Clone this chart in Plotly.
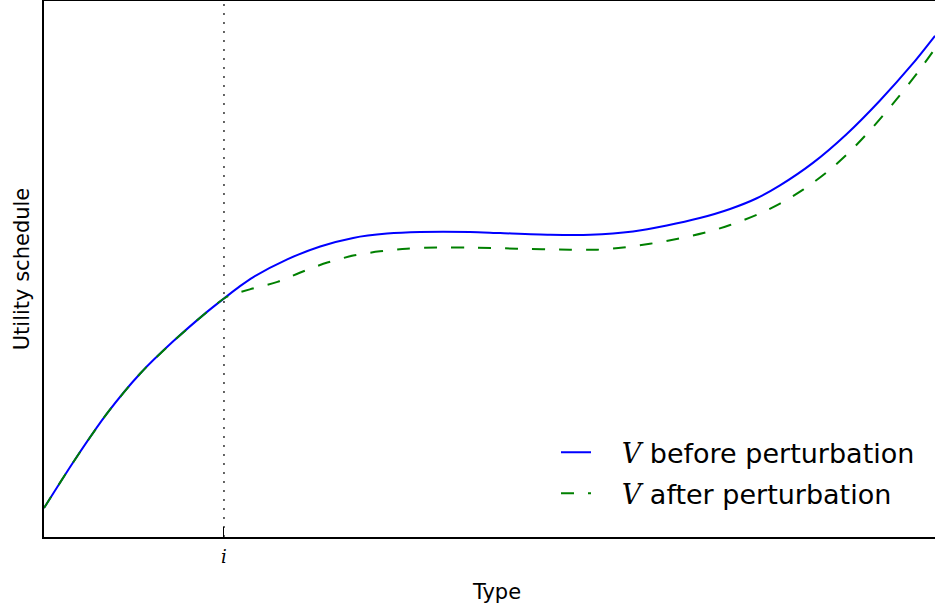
import plotly.graph_objects as go

# Type (horizontal) positions and utility values
type_before = [0.0, 0.33, 0.71, 1.08, 1.45, 1.83, 2.02, 2.20, 2.35, 2.73, 3.10, 3.47, 3.85,
               4.22, 4.78, 5.12, 5.68, 6.13, 6.61, 6.99, 7.36, 7.70, 8.00, 8.26, 8.63,
               9.01, 9.38, 9.75, 10.0]
v_before = [0.54, 1.40, 2.31, 3.05, 3.65, 4.20, 4.45, 4.68, 4.85, 5.18, 5.42, 5.58, 5.66,
            5.69, 5.69, 5.67, 5.64, 5.64, 5.70, 5.81, 5.95, 6.12, 6.32, 6.56, 6.98,
            7.52, 8.14, 8.83, 9.35]

type_after = [0.0, 0.33, 0.71, 1.08, 1.45, 1.83, 2.02, 2.09, 2.31, 2.62, 2.87, 3.18, 3.47,
              3.77, 4.07, 4.41, 4.78, 5.31, 5.90, 6.21, 6.50, 6.80, 7.10, 7.40, 7.70,
              8.00, 8.26, 8.52, 8.79, 9.05, 9.30, 9.57, 9.83, 10.0]
v_after = [0.54, 1.40, 2.31, 3.05, 3.65, 4.20, 4.45, 4.51, 4.62, 4.76, 4.93, 5.12, 5.25,
           5.33, 5.38, 5.40, 5.40, 5.38, 5.36, 5.36, 5.40, 5.47, 5.56, 5.67, 5.82,
           6.01, 6.22, 6.48, 6.81, 7.20, 7.64, 8.17, 8.72, 9.11]

type_i = 2.02
tick_vals = [type_i]
tick_text = ["<i>i</i>"]

V = '<span style="font-family:DejaVu Serif;font-style:italic">V</span>'
pad = "&nbsp;&nbsp;&nbsp;"

fig = go.Figure()
fig.add_trace(go.Scatter(x=type_before, y=v_before, mode="lines",
                         line=dict(color="#0000ff", width=2, shape="spline", smoothing=0.8),
                         name=pad + V + " before perturbation", legendgroup="a"))
fig.add_trace(go.Scatter(x=type_after, y=v_after, mode="lines",
                         line=dict(color="#008000", width=2, shape="spline", smoothing=0.8,
                                   dash="13px,14px"),
                         name=pad + V + " after perturbation", legendgroup="b"))

fig.add_vline(x=type_i, line=dict(color="black", width=1.2, dash="2px,7px"))

# the original axes run a little past the right edge of the 935px picture
W = 950
fig.update_layout(
    width=W, height=607,
    margin=dict(l=44, r=0, t=1, b=70, autoexpand=False),
    plot_bgcolor="white", paper_bgcolor="white",
    font=dict(family="DejaVu Sans", color="black"),
    showlegend=True,
    legend=dict(x=(556 - 44) / (W - 44), y=0.203, xanchor="left", yanchor="top",
                font=dict(size=27, family="DejaVu Sans"),
                bgcolor="rgba(0,0,0,0)", tracegroupgap=3, itemwidth=30),
    xaxis=dict(range=[0, 10.0 * (W - 44) / 891], showgrid=False, zeroline=False, automargin=False,
               showline=True, linecolor="black", linewidth=1.5, mirror=True,
               tickvals=tick_vals, ticktext=tick_text, ticks="inside", ticklen=10,
               tickcolor="black", tickfont=dict(family="DejaVu Serif", size=18),
               ticklabelstandoff=3,
               title=dict(text="Type", font=dict(size=21), standoff=18)),
    yaxis=dict(range=[0, 10], showgrid=False, zeroline=False, automargin=False,
               showline=True, linecolor="black", linewidth=1.5, mirror=True,
               showticklabels=False, ticks="",
               title=dict(text="Utility schedule", font=dict(size=21), standoff=7)),
)

fig.write_html("out.html", config={"displayModeBar": False},
               post_script="document.body.style.margin='0';document.body.style.padding='0';"
                           "document.body.style.overflow='hidden';"
                           "document.documentElement.style.overflow='hidden';")
